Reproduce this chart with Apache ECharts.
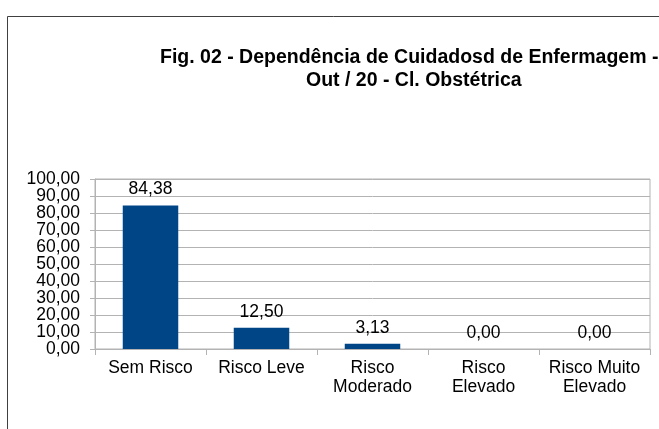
<!DOCTYPE html>
<html>
<head>
<meta charset="utf-8">
<script src="https://cdn.jsdelivr.net/npm/echarts@6/dist/echarts.min.js"></script>
<style>
  html, body { margin: 0; padding: 0; background: #fff; }
  #chart { width: 659px; height: 429px; }
</style>
</head>
<body>
<div id="chart"></div>
<script>
// dados do gráfico
var categorias = ['Sem Risco', 'Risco Leve', 'Risco\nModerado', 'Risco\nElevado', 'Risco Muito\nElevado'];
var valores = [84.38, 12.50, 3.13, 0.00, 0.00];
// rótulos do eixo Y divididos em dois eixos para não serem ocultados por sobreposição
var ticksPares = [0, 20, 40, 60, 80, 100];
var ticksImpares = [10, 30, 50, 70, 90];
var tituloLinha1 = 'Fig. 02 - Dependência de Cuidadosd de Enfermagem -';
var tituloLinha2 = 'Out / 20 - Cl. Obstétrica';

function virgula(v) {
    return v.toFixed(2).replace('.', ',');
}

var fonte = 'Liberation Sans, Arial, sans-serif';

var option = {
    animation: false,
    backgroundColor: '#fff',
    textStyle: { fontFamily: fonte },
    title: [{
        text: tituloLinha1,
        left: 155,
        top: 43,
        textStyle: { fontFamily: fonte, fontSize: 19.5, fontWeight: 'bold', color: '#000' }
    }, {
        text: tituloLinha2,
        left: 301,
        top: 66,
        textStyle: { fontFamily: fonte, fontSize: 19.5, fontWeight: 'bold', color: '#000' }
    }],
    graphic: [{
        type: 'rect',
        shape: { x: 7.5, y: 16.5, width: 700, height: 500 },
        style: { fill: 'none', stroke: '#404040', lineWidth: 1 },
        silent: true
    }],
    grid: {
        left: 95, right: 9, top: 179, bottom: 80, containLabel: false,
        show: true, borderColor: '#b3b3b3', borderWidth: 1, backgroundColor: 'transparent'
    },
    xAxis: {
        type: 'category',
        data: categorias,
        axisLine: { lineStyle: { color: '#b3b3b3' } },
        axisTick: { show: true, length: 6, lineStyle: { color: '#b3b3b3' } },
        axisLabel: { color: '#000', fontSize: 17.5, lineHeight: 19, margin: 10, interval: 0 },
        splitLine: { show: false }
    },
    yAxis: [{
        type: 'value',
        position: 'left',
        min: 0,
        max: 100,
        interval: 10,
        axisLine: { show: true, lineStyle: { color: '#b3b3b3' } },
        axisTick: { show: true, length: 5, lineStyle: { color: '#b3b3b3' } },
        axisLabel: {
            color: '#000', margin: 15, fontSize: 17.5,
            customValues: ticksPares,
            formatter: virgula,
            showMinLabel: true, showMaxLabel: true
        },
        splitLine: { show: true, showMinLine: true, showMaxLine: true, lineStyle: { color: '#b3b3b3' } }
    }, {
        type: 'value',
        position: 'left',
        offset: 0,
        min: 0,
        max: 100,
        interval: 10,
        axisLine: { show: false },
        axisTick: { show: false },
        splitLine: { show: false },
        axisLabel: {
            color: '#000', margin: 15, fontSize: 17.5,
            customValues: ticksImpares,
            formatter: virgula
        }
    }],
    series: [{
        type: 'bar',
        yAxisIndex: 0,
        data: valores,
        barWidth: '50%',
        itemStyle: { color: '#004586' },
        label: {
            show: true,
            position: 'top',
            distance: 7,
            color: '#000',
            fontSize: 17.5,
            formatter: function(p) { return virgula(p.value); }
        }
    }]
};

var myChart = echarts.init(document.getElementById('chart'));
myChart.setOption(option);
</script>
</body>
</html>
